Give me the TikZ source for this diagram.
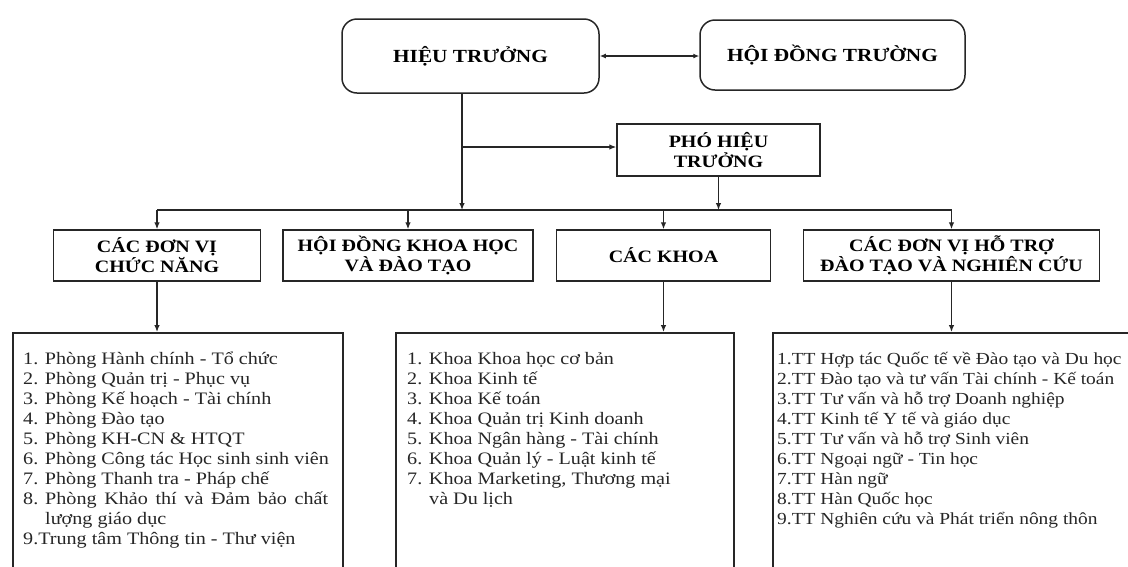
\documentclass[tikz,border=0pt]{standalone}
\usepackage{fontspec}
\setmainfont{Liberation Serif}[FakeStretch=1.15]
\usetikzlibrary{arrows.meta}
\tikzset{
  ln/.style={line width=1.2pt, draw=black!85},
  arr/.style={ln, -{Latex[length=7pt,width=5.5pt]}},
  darr/.style={ln, {Latex[length=6pt,width=5pt]}-{Latex[length=6pt,width=5pt]}},
  tbox/.style={draw=black!85, line width=1.5pt, rounded corners=15pt, inner sep=0pt,
    font=\bfseries\fontsize{18.5}{21}\selectfont},
  sbox/.style={draw=black!85, line width=1.5pt, inner sep=0pt, align=center,
    font=\bfseries\fontsize{17.4}{20}\selectfont},
  lbox/.style={draw=black!85, line width=1.5pt, inner sep=0pt, anchor=north west},
  ltext/.style={anchor=north west, inner sep=0pt, align=left, text=black!85,
    font=\fontsize{17.5}{20}\selectfont},
  ltextsm/.style={ltext, font=\fontsize{16.9}{20}\selectfont}
}
\begin{document}
\begin{tikzpicture}[x=1pt,y=-1pt]
\useasboundingbox (0,0) rectangle (1128,566);
\clip (0,0) rectangle (1128,566);
\fill[white] (0,0) rectangle (1128,566);

% top row
\node[tbox, minimum width=257pt, minimum height=74pt] (ht) at (470.5,56) {HIỆU TRƯỞNG};
\node[tbox, minimum width=265pt, minimum height=70pt] (hdt) at (832.5,55) {HỘI ĐỒNG TRƯỜNG};
\node[sbox, minimum width=203pt, minimum height=52pt] (pht) at (718.5,150) {PHÓ HIỆU\\TRƯỞNG};

% middle row
\node[sbox, minimum width=207pt, minimum height=51pt] (a) at (157,255.5) {CÁC ĐƠN VỊ\\CHỨC NĂNG};
\node[sbox, minimum width=250pt, minimum height=51pt] (b) at (408,255.5) {HỘI ĐỒNG KHOA HỌC\\VÀ ĐÀO TẠO};
\node[sbox, minimum width=214pt, minimum height=51pt] (c) at (663.5,255.5) {CÁC KHOA};
\node[sbox, minimum width=296pt, minimum height=51pt] (d) at (951.5,255.5) {CÁC ĐƠN VỊ HỖ TRỢ\\ĐÀO TẠO VÀ NGHIÊN CỨU};

% list boxes
\node[lbox, minimum width=330pt, minimum height=300pt] (l1) at (12,332) {};
\node[lbox, minimum width=338pt, minimum height=300pt] (l2) at (395,332) {};
\node[lbox, minimum width=400pt, minimum height=300pt] (l3) at (772,332) {};

\node[ltext] (t1) at ([xshift=11pt,yshift=-20pt]l1.north west) {%
1. Phòng Hành chính - Tổ chức\\
2. Phòng Quản trị - Phục vụ\\
3. Phòng Kế hoạch - Tài chính\\
4. Phòng Đào tạo\\
5. Phòng KH-CN \& HTQT\\
6. Phòng Công tác Học sinh sinh viên\\
7. Phòng Thanh tra - Pháp chế\\
\makebox[22pt][l]{8.}\makebox[283pt][s]{Phòng Khảo thí và Đảm bảo chất}\\
\hspace*{22pt}lượng giáo dục\\
9.Trung tâm Thông tin - Thư viện};

\node[ltext] (t2) at ([xshift=12pt,yshift=-20pt]l2.north west) {%
1. Khoa Khoa học cơ bản\\
2. Khoa Kinh tế\\
3. Khoa Kế toán\\
4. Khoa Quản trị Kinh doanh\\
5. Khoa Ngân hàng - Tài chính\\
6. Khoa Quản lý - Luật kinh tế\\
7. Khoa Marketing, Thương mại\\
\hspace*{22pt}và Du lịch};

\node[ltextsm] (t3) at ([xshift=5pt,yshift=-20pt]l3.north west) {%
1.TT Hợp tác Quốc tế về Đào tạo và Du học\\
2.TT Đào tạo và tư vấn Tài chính - Kế toán\\
3.TT Tư vấn và hỗ trợ Doanh nghiệp\\
4.TT Kinh tế Y tế và giáo dục\\
5.TT Tư vấn và hỗ trợ Sinh viên\\
6.TT Ngoại ngữ - Tin học\\
7.TT Hàn ngữ\\
8.TT Hàn Quốc học\\
9.TT Nghiên cứu và Phát triển nông thôn};

% connectors
\coordinate (hv) at (462,210);
\coordinate (pj) at (462,147);
\draw[darr] (ht.east) -- (ht.east -| hdt.west);
\draw[arr] (ht.south -| hv) -- (hv);
\draw[arr] (pj) -- (pj -| pht.west);
\draw[ln] (a.north |- hv) -- (d.north |- hv);
\draw[arr] (pht.south) -- (pht.south |- hv);
\draw[arr] (a.north |- hv) -- (a.north);
\draw[arr] (b.north |- hv) -- (b.north);
\draw[arr] (c.north |- hv) -- (c.north);
\draw[arr] (d.north |- hv) -- (d.north);
\draw[arr] (a.south) -- (a.south |- l1.north);
\draw[arr] (c.south) -- (c.south |- l2.north);
\draw[arr] (d.south) -- (d.south |- l3.north);
\end{tikzpicture}
\end{document}
